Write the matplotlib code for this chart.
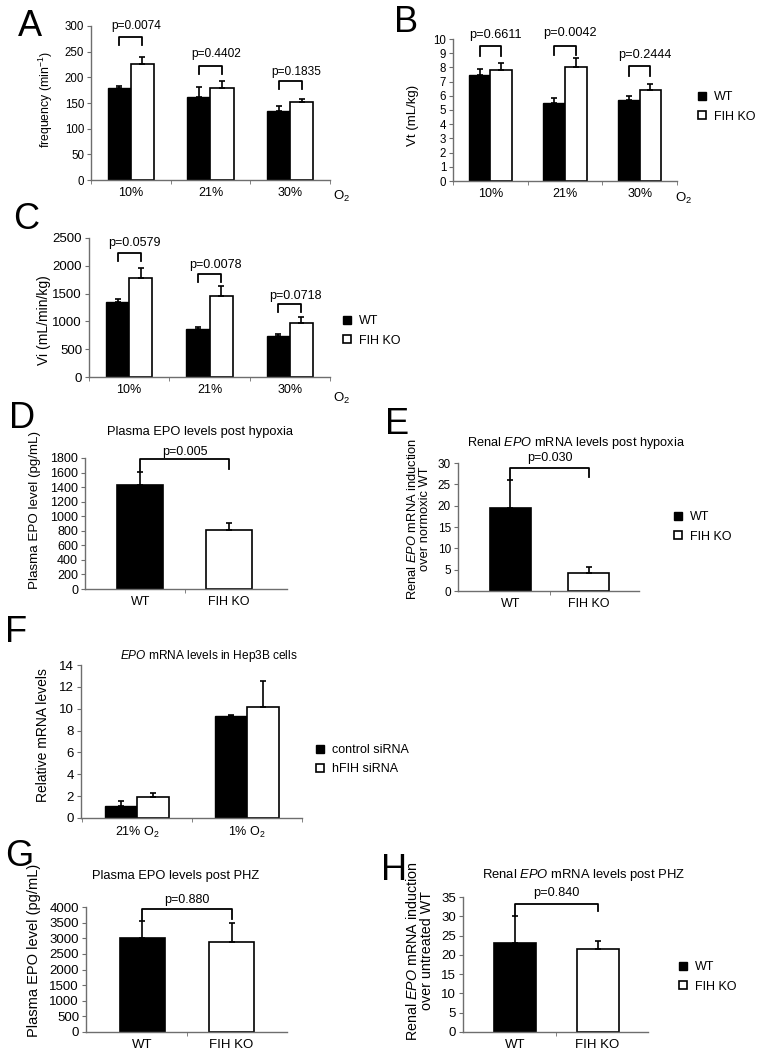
import numpy as np
import matplotlib
matplotlib.use("Agg")
import matplotlib.pyplot as plt
from matplotlib.patches import Patch

plt.rcParams['font.family'] = ['Liberation Sans', 'DejaVu Sans']
plt.rcParams['mathtext.fontset'] = 'custom'
plt.rcParams['mathtext.rm'] = 'Liberation Sans'
plt.rcParams['mathtext.it'] = 'Liberation Sans:italic'

W, H = 778, 1050

# ---- data ----
o2_groups = ['10%', '21%', '30%']

freq_wt = [180, 162, 135]
freq_wt_err = [4, 20, 9]
freq_ko = [226, 179, 152]
freq_ko_err = [13, 13, 6]
freq_p = ['p=0.0074', 'p=0.4402', 'p=0.1835']
freq_br_top = [279, 223, 193]
freq_br_end = [263, 206, 177]
freq_p_y = [300, 245, 211]

vt_wt = [7.46, 5.48, 5.67]
vt_wt_err = [0.42, 0.36, 0.33]
vt_ko = [7.79, 8.02, 6.42]
vt_ko_err = [0.49, 0.62, 0.43]
vt_p = ['p=0.6611', 'p=0.0042', 'p=0.2444']
vt_br_top = [9.53, 9.53, 8.07]
vt_br_end = [8.82, 8.9, 7.41]
vt_p_y = [10.3, 10.4, 8.9]

vi_wt = [1349, 855, 741]
vi_wt_err = [61, 49, 30]
vi_ko = [1777, 1464, 976]
vi_ko_err = [187, 175, 108]
vi_p = ['p=0.0579', 'p=0.0078', 'p=0.0718']
vi_br_top = [2229, 1855, 1307]
vi_br_end = [2078, 1711, 1169]
vi_p_y = [2410, 2018, 1464]

genotypes = ['WT', 'FIH KO']

epo_hyp = [1430, 804]
epo_hyp_err = [178, 101]
epo_hyp_br = [1626, 1782, 1649]   # left end, top, right end
epo_hyp_p = 'p=0.005'
epo_hyp_p_y = 1887

renal_hyp = [19.4, 4.24]
renal_hyp_err = [6.5, 1.42]
renal_hyp_br = [26.1, 28.9, 26.7]
renal_hyp_p = 'p=0.030'
renal_hyp_p_y = 31.2

hep_groups = ['21% O$_2$', '1% O$_2$']
hep_ctrl = [1.07, 9.37]
hep_ctrl_err = [0.48, 0.1]
hep_si = [1.89, 10.13]
hep_si_err = [0.39, 2.41]

epo_phz = [3003, 2865]
epo_phz_err = [551, 626]
epo_phz_br = [3575, 3947, 3629]
epo_phz_p = 'p=0.880'
epo_phz_p_y = 4233

renal_phz = [23.1, 21.5]
renal_phz_err = [6.9, 2.1]
renal_phz_br = [30.1, 33.3, 31.3]
renal_phz_p = 'p=0.840'
renal_phz_p_y = 36.05

fig = plt.figure(figsize=(W / 100, H / 100), dpi=100)


def fx(px):
    return px / W


def fy(py):
    return 1 - py / H


def make_axes(x0, x1, ytop, ybot):
    ax = fig.add_axes([fx(x0), fy(ybot), (x1 - x0) / W, (ybot - ytop) / H])
    for s in ['top', 'right']:
        ax.spines[s].set_visible(False)
    for s in ['left', 'bottom']:
        ax.spines[s].set_color('#6e6e6e')
        ax.spines[s].set_linewidth(1.0)
    ax.tick_params(axis='y', direction='out', length=3, color='#6e6e6e', pad=2)
    ax.tick_params(axis='x', which='major', length=0, pad=5)
    ax.tick_params(axis='x', which='minor', direction='out', length=3, color='#6e6e6e')
    return ax


def style_ticks(ax, size):
    for lab in ax.get_yticklabels():
        lab.set_fontsize(size)


def set_ylab(ax, text, size, x, y):
    ax.set_ylabel(text, fontsize=size, linespacing=1.0)
    ax.yaxis.set_label_coords(fx(x), fy(y), transform=fig.transFigure)


def add_legend(ax, labels, x, y, size=9):
    handles = [Patch(facecolor='black', edgecolor='black'),
               Patch(facecolor='white', edgecolor='black', linewidth=1.2)]
    ax.legend(handles, labels, loc='upper left', bbox_to_anchor=(fx(x), fy(y)),
              bbox_transform=fig.transFigure, frameon=False, fontsize=size,
              handlelength=0.6, handleheight=0.6, handletextpad=0.7,
              labelspacing=0.6, borderpad=0, borderaxespad=0)


def grouped(ax, wt, wt_err, ko, ko_err, width, groups, xsize):
    x = np.arange(len(wt))
    ax.bar(x - width / 2, wt, width, color='black', edgecolor='black', linewidth=1)
    ax.bar(x + width / 2, ko, width, color='white', edgecolor='black', linewidth=1.2)
    ax.errorbar(x - width / 2, wt, yerr=[np.zeros(len(wt)), wt_err], fmt='none',
                ecolor='black', elinewidth=1.2, capsize=2, capthick=1.2)
    ax.errorbar(x + width / 2, ko, yerr=[np.zeros(len(ko)), ko_err], fmt='none',
                ecolor='black', elinewidth=1.2, capsize=2, capthick=1.2)
    ax.set_xlim(-0.5, len(wt) - 0.5)
    ax.set_xticks(x)
    ax.set_xticklabels(groups, fontsize=xsize)
    ax.set_xticks(np.arange(len(wt) + 1) - 0.5, minor=True)
    return x


def brackets(ax, x, width, tops, ends, ptxt, py, size):
    for xi, t, e, p, yy in zip(x, tops, ends, ptxt, py):
        ax.plot([xi - width / 2, xi - width / 2, xi + width / 2, xi + width / 2],
                [e, t, t, e], color='black', lw=1.3, clip_on=False)
        ax.text(xi + 0.07, yy, p, ha='center', va='center', fontsize=size)


def pair(ax, vals, errs, width, xlim, br, ptxt, py, psize, xsize):
    x = np.arange(2)
    ax.bar(x, vals, width, color=['black', 'white'], edgecolor='black', linewidth=1.2)
    ax.errorbar(x, vals, yerr=[np.zeros(2), errs], fmt='none', ecolor='black',
                elinewidth=1.2, capsize=2, capthick=1.2)
    ax.plot([0, 0, 1, 1], [br[0], br[1], br[1], br[2]], color='black', lw=1.3, clip_on=False)
    ax.text(0.5, py, ptxt, ha='center', va='center', fontsize=psize)
    ax.set_xlim(*xlim)
    ax.set_xticks(x)
    ax.set_xticklabels(genotypes, fontsize=xsize)
    ax.set_xticks([0.5], minor=True)


# ---- A ----
axA = make_axes(91, 330, 26, 180)
wA = 0.29
xA = grouped(axA, freq_wt, freq_wt_err, freq_ko, freq_ko_err, wA, o2_groups, 9)
axA.set_ylim(0, 300)
axA.set_yticks(np.arange(0, 301, 50))
style_ticks(axA, 8.3)
brackets(axA, xA, wA, freq_br_top, freq_br_end, freq_p, freq_p_y, 8.6)
set_ylab(axA, 'frequency (min$^{-1}$)', 8.8, 55, 100)
fig.text(fx(333), fy(196), 'O$_2$', fontsize=9.5, va='center')

# ---- B ----
axB = make_axes(453, 677, 39, 181)
wB = 0.29
xB = grouped(axB, vt_wt, vt_wt_err, vt_ko, vt_ko_err, wB, o2_groups, 9)
axB.set_ylim(0, 10)
axB.set_yticks(np.arange(0, 11, 1))
style_ticks(axB, 8.3)
brackets(axB, xB, wB, vt_br_top, vt_br_end, vt_p, vt_p_y, 9.2)
set_ylab(axB, 'Vt (mL/kg)', 9.5, 419, 115)
fig.text(fx(675), fy(198), 'O$_2$', fontsize=9.5, va='center')
add_legend(axB, genotypes, 698, 91)

# ---- C ----
axC = make_axes(89, 330, 238, 377)
wC = 0.29
xC = grouped(axC, vi_wt, vi_wt_err, vi_ko, vi_ko_err, wC, o2_groups, 9)
axC.set_ylim(0, 2500)
axC.set_yticks(np.arange(0, 2501, 500))
style_ticks(axC, 9.5)
brackets(axC, xC, wC, vi_br_top, vi_br_end, vi_p, vi_p_y, 9)
set_ylab(axC, 'Vi (mL/min/kg)', 10, 51, 320)
fig.text(fx(333), fy(398), 'O$_2$', fontsize=9.5, va='center')
add_legend(axC, genotypes, 343, 315)

# ---- D ----
axD = make_axes(85, 287, 458, 589)
pair(axD, epo_hyp, epo_hyp_err, 0.52, (-0.62, 1.65), epo_hyp_br, epo_hyp_p,
     epo_hyp_p_y, 9, 9)
axD.set_ylim(0, 1800)
axD.set_yticks(np.arange(0, 1801, 200))
style_ticks(axD, 9)
set_ylab(axD, 'Plasma EPO level (pg/mL)', 9.6, 41, 510)
fig.text(fx(200), fy(432), 'Plasma EPO levels post hypoxia', fontsize=9.3,
         ha='center', va='center')

# ---- E ----
axE = make_axes(458, 639, 463, 591)
pair(axE, renal_hyp, renal_hyp_err, 0.52, (-0.67, 1.64), renal_hyp_br, renal_hyp_p,
     renal_hyp_p_y, 9, 9)
axE.set_ylim(0, 30)
axE.set_yticks(np.arange(0, 31, 5))
style_ticks(axE, 8.5)
set_ylab(axE, 'Renal $\\mathit{EPO}$ mRNA induction\nover normoxic WT', 9.3, 431, 519)
fig.text(fx(576), fy(443), 'Renal $\\mathit{EPO}$ mRNA levels post hypoxia', fontsize=9.2,
         ha='center', va='center')
add_legend(axE, genotypes, 674, 511, size=9)

# ---- F ----
axF = make_axes(81, 302, 665, 818)
wF = 0.29
xF = np.arange(2)
axF.bar(xF - wF / 2, hep_ctrl, wF, color='black', edgecolor='black', linewidth=1)
axF.bar(xF + wF / 2, hep_si, wF, color='white', edgecolor='black', linewidth=1.2)
axF.errorbar(xF - wF / 2, hep_ctrl, yerr=[np.zeros(2), hep_ctrl_err], fmt='none',
             ecolor='black', elinewidth=1.2, capsize=2, capthick=1.2)
axF.errorbar(xF + wF / 2, hep_si, yerr=[np.zeros(2), hep_si_err], fmt='none',
             ecolor='black', elinewidth=1.2, capsize=2, capthick=1.2)
axF.set_xlim(-0.51, 1.5)
axF.set_xticks(xF)
axF.set_xticklabels(hep_groups, fontsize=9)
axF.set_xticks([-0.5, 0.5, 1.5], minor=True)
axF.set_ylim(0, 14)
axF.set_yticks(np.arange(0, 15, 2))
style_ticks(axF, 9.5)
set_ylab(axF, 'Relative mRNA levels', 10, 50, 735)
fig.text(fx(209), fy(656), '$\\mathit{EPO}$ mRNA levels in Hep3B cells', fontsize=8.6,
         ha='center', va='center')
add_legend(axF, ['control siRNA', 'hFIH siRNA'], 316, 744)

# ---- G ----
axG = make_axes(86, 287, 907, 1032)
pair(axG, epo_phz, epo_phz_err, 0.51, (-0.63, 1.62), epo_phz_br, epo_phz_p,
     epo_phz_p_y, 9, 9.5)
axG.set_ylim(0, 4000)
axG.set_yticks(np.arange(0, 4001, 500))
style_ticks(axG, 9.5)
set_ylab(axG, 'Plasma EPO level (pg/mL)', 10.5, 41, 950)
fig.text(fx(176), fy(876), 'Plasma EPO levels post PHZ', fontsize=9.3,
         ha='center', va='center')

# ---- H ----
axH = make_axes(463, 648, 897, 1032)
pair(axH, renal_phz, renal_phz_err, 0.51, (-0.63, 1.61), renal_phz_br, renal_phz_p,
     renal_phz_p_y, 9.2, 9.5)
axH.set_ylim(0, 35)
axH.set_yticks(np.arange(0, 36, 5))
style_ticks(axH, 9.5)
set_ylab(axH, 'Renal $\\mathit{EPO}$ mRNA induction\nover untreated WT', 10.3, 434, 951)
fig.text(fx(584), fy(875), 'Renal $\\mathit{EPO}$ mRNA levels post PHZ', fontsize=9.4,
         ha='center', va='center')
add_legend(axH, genotypes, 679, 961)

# panel letters
letters = ['A', 'B', 'C', 'D', 'E', 'F', 'G', 'H']
letter_pos = [(30, 26), (406, 22), (26, 219), (22, 418), (397, 425), (16, 632),
              (19, 857), (394, 870)]
for L, (lx, ly) in zip(letters, letter_pos):
    fig.text(fx(lx), fy(ly), L, fontsize=26, ha='center', va='center')

fig.savefig('out.png', dpi=100)
